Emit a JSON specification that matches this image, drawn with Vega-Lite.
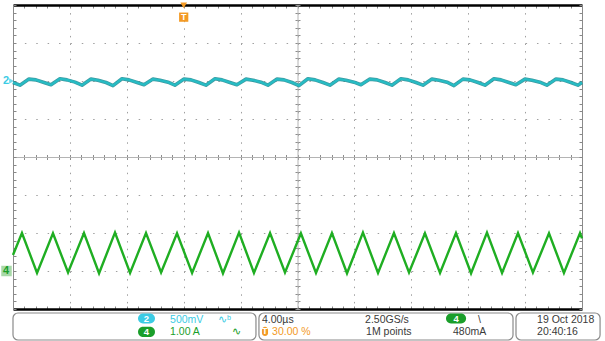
{
  "$schema": "https://vega.github.io/schema/vega-lite/v6.json",
  "width": 569,
  "height": 304,
  "autosize": {"type": "none"},
  "padding": {"left": 13, "top": 5, "right": 23, "bottom": 32},
  "background": "white",
  "config": {"view": {"stroke": null}},
  "datasets": {
    "ch2": [
      {"t": -12, "div": 1.96},
      {"t": -11.51, "div": 1.89}, {"t": -10.88, "div": 2.05}, {"t": -10.39, "div": 2.03}, {"t": -9.82, "div": 1.96},
      {"t": -9.33, "div": 1.9}, {"t": -8.70, "div": 2.06}, {"t": -8.21, "div": 2.03}, {"t": -7.64, "div": 1.97},
      {"t": -7.15, "div": 1.89}, {"t": -6.52, "div": 2.05}, {"t": -6.03, "div": 2.02}, {"t": -5.46, "div": 1.96},
      {"t": -4.97, "div": 1.88}, {"t": -4.34, "div": 2.06}, {"t": -3.85, "div": 2.03}, {"t": -3.28, "div": 1.96},
      {"t": -2.79, "div": 1.9}, {"t": -2.16, "div": 2.05}, {"t": -1.67, "div": 2.02}, {"t": -1.10, "div": 1.97},
      {"t": -0.62, "div": 1.89}, {"t": 0.02, "div": 2.05}, {"t": 0.51, "div": 2.03}, {"t": 1.07, "div": 1.96},
      {"t": 1.56, "div": 1.89}, {"t": 2.20, "div": 2.06}, {"t": 2.69, "div": 2.03}, {"t": 3.25, "div": 1.96},
      {"t": 3.74, "div": 1.9}, {"t": 4.38, "div": 2.05}, {"t": 4.87, "div": 2.02}, {"t": 5.43, "div": 1.97},
      {"t": 5.92, "div": 1.89}, {"t": 6.56, "div": 2.05}, {"t": 7.05, "div": 2.03}, {"t": 7.61, "div": 1.96},
      {"t": 8.10, "div": 1.88}, {"t": 8.73, "div": 2.06}, {"t": 9.23, "div": 2.03}, {"t": 9.79, "div": 1.96},
      {"t": 10.28, "div": 1.89}, {"t": 10.91, "div": 2.05}, {"t": 11.41, "div": 2.02}, {"t": 11.97, "div": 1.97},
      {"t": 12.46, "div": 1.9}, {"t": 13.09, "div": 2.05}, {"t": 13.59, "div": 2.03}, {"t": 14.15, "div": 1.96},
      {"t": 14.64, "div": 1.89}, {"t": 15.27, "div": 2.06}, {"t": 15.77, "div": 2.03}, {"t": 16.33, "div": 1.96},
      {"t": 16.82, "div": 1.89}, {"t": 17.45, "div": 2.05}, {"t": 17.94, "div": 2.02}, {"t": 18.51, "div": 1.97},
      {"t": 19.00, "div": 1.88}, {"t": 19.63, "div": 2.05}, {"t": 20.12, "div": 2.03}, {"t": 20.69, "div": 1.96},
      {"t": 21.18, "div": 1.89}, {"t": 21.81, "div": 2.06}, {"t": 22.30, "div": 2.03}, {"t": 22.86, "div": 1.96},
      {"t": 23.35, "div": 1.9}, {"t": 23.99, "div": 2.05}, {"t": 24.48, "div": 2.02}, {"t": 25.04, "div": 1.97},
      {"t": 25.53, "div": 1.89}, {"t": 26.17, "div": 2.05}, {"t": 26.66, "div": 2.03}, {"t": 27.22, "div": 1.96},
      {"t": 27.71, "div": 1.89}, {"t": 28, "div": 1.96}
    ],
    "ch4": [
      {"t": -12, "div": -2.58},
      {"t": -11.37, "div": -2.0}, {"t": -10.31, "div": -3.05},
      {"t": -9.19, "div": -2.01}, {"t": -8.13, "div": -3.04},
      {"t": -7.01, "div": -2.0}, {"t": -5.95, "div": -3.06},
      {"t": -4.83, "div": -1.99}, {"t": -3.77, "div": -3.05},
      {"t": -2.65, "div": -2.0}, {"t": -1.59, "div": -3.04},
      {"t": -0.47, "div": -2.01}, {"t": 0.59, "div": -3.05},
      {"t": 1.71, "div": -2.0}, {"t": 2.76, "div": -3.06},
      {"t": 3.89, "div": -1.99}, {"t": 4.94, "div": -3.05},
      {"t": 6.07, "div": -2.0}, {"t": 7.12, "div": -3.04},
      {"t": 8.24, "div": -2.01}, {"t": 9.30, "div": -3.05},
      {"t": 10.42, "div": -2.0}, {"t": 11.48, "div": -3.06},
      {"t": 12.60, "div": -1.99}, {"t": 13.66, "div": -3.05},
      {"t": 14.78, "div": -2.0}, {"t": 15.84, "div": -3.04},
      {"t": 16.96, "div": -2.01}, {"t": 18.02, "div": -3.05},
      {"t": 19.14, "div": -2.0}, {"t": 20.20, "div": -3.06},
      {"t": 21.32, "div": -1.99}, {"t": 22.38, "div": -3.05},
      {"t": 23.50, "div": -2.0}, {"t": 24.55, "div": -3.04},
      {"t": 25.68, "div": -2.01}, {"t": 26.73, "div": -3.05},
      {"t": 27.86, "div": -2.0}, {"t": 28, "div": -2.14}
    ],
    "frames": [
      {"t0": -12, "t1": 5.08, "d0": -4.105, "d1": -4.816},
      {"t0": 5.29, "t1": 23.15, "d0": -4.105, "d1": -4.816},
      {"t0": 23.36, "t1": 29.27, "d0": -4.105, "d1": -4.816}
    ],
    "badges": [
      {"ch": "2", "label": "2", "t0": -3.21, "t1": -2.02, "d0": -4.12, "d1": -4.38, "tc": -2.615, "dc": -4.25},
      {"ch": "4", "label": "4", "t0": -3.21, "t1": -2.02, "d0": -4.47, "d1": -4.74, "tc": -2.615, "dc": -4.605},
      {"ch": "4", "label": "4", "t0": 18.44, "t1": 19.85, "d0": -4.12, "d1": -4.38, "tc": 19.145, "dc": -4.25},
      {"ch": "T", "label": "T", "t0": 5.50, "t1": 5.93, "d0": -4.47, "d1": -4.71, "tc": 5.715, "dc": -4.59}
    ],
    "readout": [
      {"ch": "2", "label": "500mV", "t": -0.96, "div": -4.29},
      {"ch": "2", "label": "∿ᵇ", "t": 2.41, "div": -4.29},
      {"ch": "4", "label": "1.00 A", "t": -0.96, "div": -4.605},
      {"ch": "4", "label": "∿", "t": 3.40, "div": -4.605},
      {"ch": "info", "label": "4.00µs", "t": 5.50, "div": -4.29},
      {"ch": "T", "label": "30.00 %", "t": 6.21, "div": -4.605},
      {"ch": "info", "label": "2.50GS/s", "t": 12.75, "div": -4.29},
      {"ch": "info", "label": "1M points", "t": 12.82, "div": -4.605},
      {"ch": "info", "label": "\\", "t": 20.69, "div": -4.29},
      {"ch": "info", "label": "480mA", "t": 18.93, "div": -4.605},
      {"ch": "info", "label": "19 Oct  2018", "t": 24.84, "div": -4.29},
      {"ch": "info", "label": "20:40:16", "t": 24.84, "div": -4.605}
    ],
    "offsets": [
      {"ch": "2", "label": "2", "t": -12, "div": 2.0},
      {"ch": "4", "label": "4", "t": -12, "div": -3.0}
    ],
    "trigger": [{"label": "T", "t": 0}]
  },
  "layer": [
    {
      "data": {"name": "frames"},
      "mark": {"type": "rect", "cornerRadius": 5, "fill": "white", "stroke": "#8a8a8a", "strokeWidth": 1.2, "clip": false},
      "encoding": {
        "x": {"field": "t0", "type": "quantitative", "scale": {"domain": [-12, 28], "nice": false, "zero": false},
          "axis": {"orient": "bottom", "values": [-12,-11.2,-10.4,-9.6,-8.8,-8,-7.2,-6.4,-5.6,-4.8,-4,-3.2,-2.4,-1.6,-0.8,0,0.8,1.6,2.4,3.2,4,4.8,5.6,6.4,7.2,8,8.8,9.6,10.4,11.2,12,12.8,13.6,14.4,15.2,16,16.8,17.6,18.4,19.2,20,20.8,21.6,22.4,23.2,24,24.8,25.6,26.4,27.2,28],
            "domain": false, "grid": false, "ticks": true, "tickSize": -3, "tickColor": "#888", "labels": false, "title": null}},
        "x2": {"field": "t1"},
        "y": {"field": "d0", "type": "quantitative", "scale": {"domain": [-4, 4], "nice": false, "zero": false},
          "axis": {"orient": "left", "values": [-4,-3.8,-3.6,-3.4,-3.2,-3,-2.8,-2.6,-2.4,-2.2,-2,-1.8,-1.6,-1.4,-1.2,-1,-0.8,-0.6,-0.4,-0.2,0,0.2,0.4,0.6,0.8,1,1.2,1.4,1.6,1.8,2,2.2,2.4,2.6,2.8,3,3.2,3.4,3.6,3.8,4],
            "domain": false, "grid": false, "ticks": true, "tickSize": -3, "tickColor": "#888", "labels": false, "title": null}},
        "y2": {"field": "d1"}
      }
    },
    {
      "data": {"name": "badges"},
      "mark": {"type": "rect", "cornerRadius": 5, "clip": false},
      "encoding": {
        "x": {"field": "t0", "type": "quantitative", "axis": null},
        "x2": {"field": "t1"},
        "y": {"field": "d0", "type": "quantitative", "axis": null},
        "y2": {"field": "d1"},
        "color": {"field": "ch", "type": "nominal", "scale": {"domain": ["2", "4", "T", "info"], "range": ["#3ccbe4", "#1a9e2a", "#f39a25", "#3a3a3a"]}, "legend": null}
      }
    },
    {
      "data": {"name": "badges"},
      "mark": {"type": "text", "font": "Liberation Sans", "fontSize": 9.5, "fontWeight": "bold", "fill": "white", "align": "center", "baseline": "middle", "clip": false},
      "encoding": {
        "x": {"field": "tc", "type": "quantitative", "axis": null},
        "y": {"field": "dc", "type": "quantitative", "axis": null},
        "text": {"field": "label"}
      }
    },
    {
      "data": {"name": "readout"},
      "mark": {"type": "text", "font": "Liberation Sans", "fontSize": 10.5, "align": "left", "baseline": "middle", "clip": false},
      "encoding": {
        "x": {"field": "t", "type": "quantitative",
          "axis": {"orient": "top", "offset": -152, "values": [-12,-11.2,-10.4,-9.6,-8.8,-8,-7.2,-6.4,-5.6,-4.8,-4,-3.2,-2.4,-1.6,-0.8,0,0.8,1.6,2.4,3.2,4,4.8,5.6,6.4,7.2,8,8.8,9.6,10.4,11.2,12,12.8,13.6,14.4,15.2,16,16.8,17.6,18.4,19.2,20,20.8,21.6,22.4,23.2,24,24.8,25.6,26.4,27.2,28],
            "domain": false, "grid": false, "ticks": true, "tickSize": 2.5, "tickColor": "#8c8c8c", "labels": false, "title": null}},
        "y": {"field": "div", "type": "quantitative",
          "axis": {"orient": "right", "offset": -284.5, "values": [-4,-3.8,-3.6,-3.4,-3.2,-3,-2.8,-2.6,-2.4,-2.2,-2,-1.8,-1.6,-1.4,-1.2,-1,-0.8,-0.6,-0.4,-0.2,0,0.2,0.4,0.6,0.8,1,1.2,1.4,1.6,1.8,2,2.2,2.4,2.6,2.8,3,3.2,3.4,3.6,3.8,4],
            "domain": false, "grid": false, "ticks": true, "tickSize": 2.5, "tickColor": "#8c8c8c", "labels": false, "title": null}},
        "text": {"field": "label"},
        "color": {"field": "ch", "type": "nominal", "legend": null}
      }
    },
    {
      "data": {"name": "ch2"},
      "mark": {"type": "line", "color": "#1d8a92", "strokeWidth": 3.6, "opacity": 0.85, "strokeJoin": "round"},
      "encoding": {
        "x": {"field": "t", "type": "quantitative",
          "axis": {"orient": "bottom", "values": [-12,-8,-4,0,4,8,12,16,20,24,28], "grid": true, "gridDash": [1.5, 6.1], "gridColor": "#a0a0a0", "gridWidth": 1,
            "domain": true, "domainColor": "#000000", "domainWidth": 2.5, "ticks": false, "labels": false, "title": null}},
        "y": {"field": "div", "type": "quantitative",
          "axis": {"orient": "left", "values": [-4,-3,-2,-1,0,1,2,3,4], "grid": true, "gridDash": [1.5, 9.88], "gridColor": "#a0a0a0", "gridWidth": 1,
            "domain": true, "domainColor": "#8a8a8a", "domainWidth": 1, "ticks": false, "labels": false, "title": null}}
      }
    },
    {
      "data": {"name": "ch2"},
      "mark": {"type": "line", "color": "#26bcc4", "strokeWidth": 2.2, "strokeJoin": "round"},
      "encoding": {
        "x": {"field": "t", "type": "quantitative",
          "axis": {"orient": "top", "values": [-12,-11.2,-10.4,-9.6,-8.8,-8,-7.2,-6.4,-5.6,-4.8,-4,-3.2,-2.4,-1.6,-0.8,0,0.8,1.6,2.4,3.2,4,4.8,5.6,6.4,7.2,8,8.8,9.6,10.4,11.2,12,12.8,13.6,14.4,15.2,16,16.8,17.6,18.4,19.2,20,20.8,21.6,22.4,23.2,24,24.8,25.6,26.4,27.2,28],
            "domain": true, "domainColor": "#000000", "domainWidth": 2.5, "grid": false, "ticks": true, "tickSize": -3, "tickColor": "#888", "labels": false, "title": null}},
        "y": {"field": "div", "type": "quantitative",
          "axis": {"orient": "right", "values": [-4,-3.8,-3.6,-3.4,-3.2,-3,-2.8,-2.6,-2.4,-2.2,-2,-1.8,-1.6,-1.4,-1.2,-1,-0.8,-0.6,-0.4,-0.2,0,0.2,0.4,0.6,0.8,1,1.2,1.4,1.6,1.8,2,2.2,2.4,2.6,2.8,3,3.2,3.4,3.6,3.8,4],
            "domain": true, "domainColor": "#8a8a8a", "domainWidth": 1, "grid": false, "ticks": true, "tickSize": -3, "tickColor": "#888", "labels": false, "title": null}}
      }
    },
    {
      "data": {"name": "ch4"},
      "mark": {"type": "line", "color": "#1fae22", "strokeWidth": 2.4},
      "encoding": {
        "x": {"field": "t", "type": "quantitative",
          "axis": {"orient": "bottom", "offset": -152, "values": [-12,-11.2,-10.4,-9.6,-8.8,-8,-7.2,-6.4,-5.6,-4.8,-4,-3.2,-2.4,-1.6,-0.8,0,0.8,1.6,2.4,3.2,4,4.8,5.6,6.4,7.2,8,8.8,9.6,10.4,11.2,12,12.8,13.6,14.4,15.2,16,16.8,17.6,18.4,19.2,20,20.8,21.6,22.4,23.2,24,24.8,25.6,26.4,27.2,28],
            "domain": true, "domainColor": "#b4b4b4", "domainWidth": 1, "grid": false, "ticks": true, "tickSize": 2.5, "tickColor": "#8c8c8c", "labels": false, "title": null}},
        "y": {"field": "div", "type": "quantitative",
          "axis": {"orient": "left", "offset": -284.5, "values": [-4,-3.8,-3.6,-3.4,-3.2,-3,-2.8,-2.6,-2.4,-2.2,-2,-1.8,-1.6,-1.4,-1.2,-1,-0.8,-0.6,-0.4,-0.2,0,0.2,0.4,0.6,0.8,1,1.2,1.4,1.6,1.8,2,2.2,2.4,2.6,2.8,3,3.2,3.4,3.6,3.8,4],
            "domain": true, "domainColor": "#b4b4b4", "domainWidth": 1, "grid": false, "ticks": true, "tickSize": 2.5, "tickColor": "#8c8c8c", "labels": false, "title": null}}
      }
    },
    {
      "data": {"name": "offsets"},
      "transform": [{"filter": "datum.ch === '4'"}],
      "mark": {"type": "point", "shape": "square", "filled": true, "size": 110, "fill": "#a8d9a8", "opacity": 1, "xOffset": -6.5, "clip": false},
      "encoding": {
        "x": {"field": "t", "type": "quantitative", "axis": null},
        "y": {"field": "div", "type": "quantitative", "axis": null}
      }
    },
    {
      "data": {"name": "offsets"},
      "transform": [{"filter": "datum.ch === '2'"}],
      "mark": {"type": "point", "shape": "triangle-right", "filled": true, "size": 30, "xOffset": -1.5, "clip": false},
      "encoding": {
        "x": {"field": "t", "type": "quantitative", "axis": null},
        "y": {"field": "div", "type": "quantitative", "axis": null},
        "color": {"field": "ch", "type": "nominal", "legend": null}
      }
    },
    {
      "data": {"name": "offsets"},
      "mark": {"type": "text", "font": "Liberation Sans", "fontSize": 11, "fontWeight": "bold", "align": "center", "baseline": "middle", "dx": -7, "clip": false},
      "encoding": {
        "x": {"field": "t", "type": "quantitative", "axis": null},
        "y": {"field": "div", "type": "quantitative", "axis": null},
        "text": {"field": "label"},
        "color": {"field": "ch", "type": "nominal", "legend": null}
      }
    },
    {
      "data": {"name": "trigger"},
      "mark": {"type": "point", "shape": "triangle-down", "filled": true, "size": 45, "fill": "#f39a25", "opacity": 1, "clip": false},
      "encoding": {
        "x": {"field": "t", "type": "quantitative", "axis": null},
        "y": {"datum": 3.99, "type": "quantitative", "axis": null}
      }
    },
    {
      "data": {"name": "trigger"},
      "mark": {"type": "point", "shape": "square", "filled": true, "size": 85, "fill": "#f39a25", "opacity": 1, "clip": false},
      "encoding": {
        "x": {"field": "t", "type": "quantitative", "axis": null},
        "y": {"datum": 3.68, "type": "quantitative", "axis": null}
      }
    },
    {
      "data": {"name": "trigger"},
      "mark": {"type": "text", "font": "Liberation Sans", "fontSize": 9, "fontWeight": "bold", "fill": "white", "align": "center", "baseline": "middle", "clip": false},
      "encoding": {
        "x": {"field": "t", "type": "quantitative", "axis": null},
        "y": {"datum": 3.68, "type": "quantitative", "axis": null},
        "text": {"field": "label"}
      }
    }
  ],
  "resolve": {"axis": {"x": "independent", "y": "independent"}}
}
